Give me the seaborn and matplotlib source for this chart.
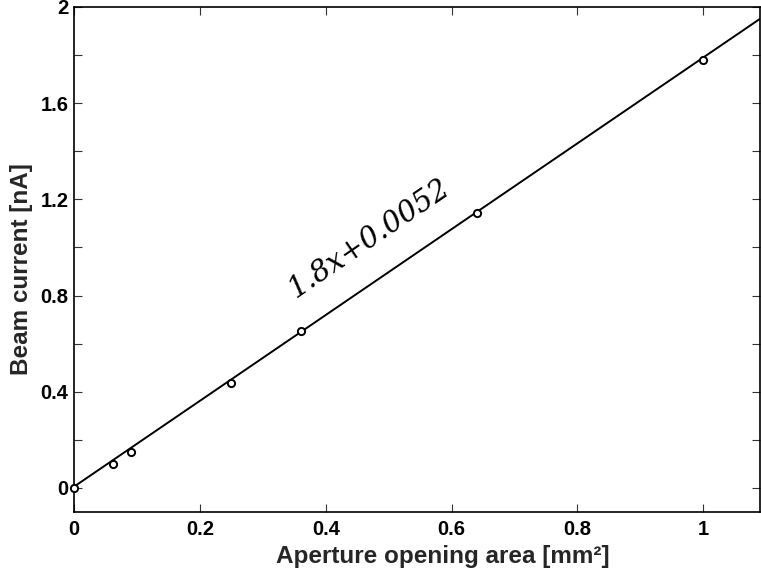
import numpy as np
import pandas as pd
import matplotlib
matplotlib.use("Agg")
import matplotlib.pyplot as plt
from matplotlib.ticker import FuncFormatter, MultipleLocator
import seaborn as sns

# Data
area = [0.0, 0.0625, 0.09, 0.25, 0.36, 0.64, 1.0]
current = [0.0, 0.10, 0.15, 0.438, 0.652, 1.142, 1.78]
fit_slope = 1.785
fit_intercept = 0.0052
fit_label = "1.8x+0.0052"
x_limits = [0.0, 1.09]
y_limits = [-0.1, 2.0]

sns.set_style("ticks")
plt.rcParams['font.family'] = ['Liberation Sans', 'DejaVu Sans']

fig = plt.figure(figsize=(7.61, 5.75), dpi=100)
ax = fig.add_axes([74/761, 63/575, 686/761, 505/575])

fit_x = np.array(x_limits)
fit_df = pd.DataFrame({"x": fit_x, "y": fit_slope * fit_x + fit_intercept})
sns.lineplot(data=fit_df, x="x", y="y", ax=ax, color="black", linewidth=1.4, zorder=2)

pts = pd.DataFrame({"area": area, "current": current})
ax.plot(pts["area"], pts["current"], linestyle="none", marker="o", markersize=5.2,
        markerfacecolor="white", markeredgecolor="black", markeredgewidth=1.4, zorder=3,
        clip_on=False)

ax.set_xlim(*x_limits)
ax.set_ylim(*y_limits)
ax.xaxis.set_major_locator(MultipleLocator(0.2))
ax.yaxis.set_major_locator(MultipleLocator(0.4))
ax.yaxis.set_minor_locator(MultipleLocator(0.2))
fmt = FuncFormatter(lambda v, p: "%g" % round(v, 3))
ax.xaxis.set_major_formatter(fmt)
ax.yaxis.set_major_formatter(fmt)

ax.tick_params(which="both", direction="in", top=True, right=True, colors="#333333",
               labelcolor="black", width=0.8)
ax.tick_params(which="major", length=6, labelsize=14.5)
ax.tick_params(axis="x", which="major", pad=5.5)
ax.tick_params(axis="y", which="major", pad=4)
ax.tick_params(which="minor", length=6)
for lab in ax.get_xticklabels() + ax.get_yticklabels():
    lab.set_fontweight("bold")
for s in ax.spines.values():
    s.set_linewidth(1.2)
    s.set_color("black")

ax.set_xlabel("Aperture opening area [mm²]", fontsize=17.5, fontweight="bold")
ax.set_ylabel("Beam current [nA]", fontsize=17.5, fontweight="bold")
ax.xaxis.set_label_coords(0.537, -0.065)
ax.yaxis.set_label_coords(-0.06, 0.481)

ax.text(0.352, 0.79, fit_label, rotation=34.3, rotation_mode="anchor",
        fontsize=21, family="DejaVu Serif", style="italic", color="black",
        ha="left", va="baseline")

fig.savefig("out.png", dpi=100)
